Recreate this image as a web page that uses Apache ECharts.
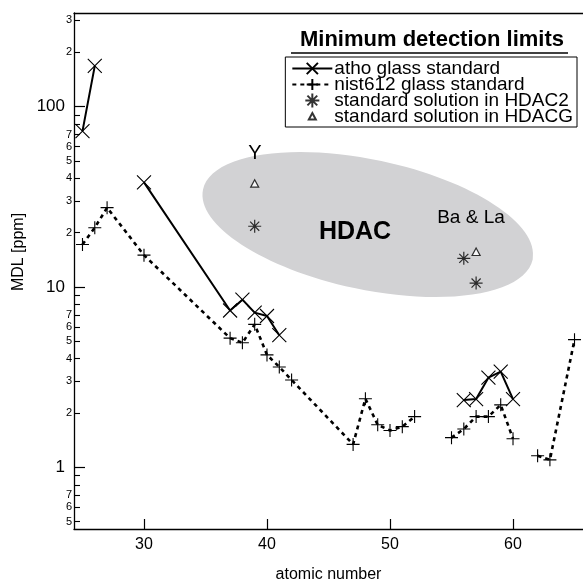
<!DOCTYPE html>
<html>
<head>
<meta charset="utf-8">
<style>html,body{margin:0;padding:0;background:#fff;}#c{width:583px;height:588px;}</style>
<script src="https://cdn.jsdelivr.net/npm/echarts@6/dist/echarts.min.js"></script>
</head>
<body>
<div id="c"></div>
<script>
// ---- data (atomic number, MDL in ppm); null = gap in the line ----
const athoZ = [25, 26, 28, 30, 37, 38, 39, 40, 41, 50, 56, 57, 58, 59, 60];
const athoV = [73, 168, null, 38, 7.4, 8.5, 7.2, 6.9, 5.4, null, 2.36, 2.39, 3.14, 3.39, 2.39];
const nistZ = [25, 26, 27, 30, 37, 38, 39, 40, 41, 42, 47, 48, 49, 50, 51, 52, 53, 55, 56, 57, 58, 59, 60, 61, 62, 63, 65];
const nistV = [17.2, 21.3, 27.5, 15.0, 5.2, 4.9, 6.2, 4.2, 3.6, 3.05, 1.34, 2.4, 1.72, 1.6, 1.68, 1.91, null, 1.46, 1.63, 1.91, 1.91, 2.22, 1.44, null, 1.16, 1.1, 5.1];
const hdac2Z = [39, 56, 57];
const hdac2V = [21.7, 14.4, 10.5];
const hdacgZ = [39, 57];
const hdacgV = [37.3, 15.6];
// HDAC region (ellipse): centre [Z, ppm], half-axes [Z units, decades], tilt deg
const hdacCenter = [48.2, 22.2];
const hdacHalfAxes = [13.7, 0.36];
const hdacTilt = 12;
// axes
const xRange = [24.31, 65.69];
const xTicks = [30, 40, 50, 60];
const yRange = [0.455, 330];
const yMajor = [1, 10, 100];
const yMinorTicks = [0.5, 0.6, 0.7, 0.8, 0.9, 2, 3, 4, 5, 6, 7, 8, 9, 20, 30, 40, 50, 60, 70, 80, 90, 200, 300];
const yMinorLabels = [0.5, 0.6, 0.7, 2, 3, 4, 5, 6, 7, 20, 30, 40, 50, 60, 70, 200, 300];

const FONT = 'Liberation Sans, Arial, Helvetica, sans-serif';
const L = Math.log10;
function pts(z, v) { return z.map((x, i) => [x, v[i] == null ? '-' : L(v[i])]); }

const SYM_X = 'path://M0,0L10,10M10,0L0,10';
const SYM_PLUS = 'path://M5,0L5,10M0,5L10,5';
const SYM_AST = 'path://M5,0L5,10M0,5L10,5M1.5,1.5L8.5,8.5M8.5,1.5L1.5,8.5';
const SYM_TRI = 'path://M0,0M14,14M7,3.5L10.5,10L3.5,10Z';

const chart = echarts.init(document.getElementById('c'), null, {renderer: 'canvas'});
const axisLineStyle = {color: '#000', width: 1.3};

chart.setOption({
  animation: false,
  backgroundColor: '#fff',
  textStyle: {fontFamily: FONT},
  grid: {left: 74, top: 13, width: 509, bottom: 55, containLabel: false},
  xAxis: [{
    type: 'value', min: xRange[0], max: xRange[1], position: 'bottom',
    axisLine: {show: true, onZero: false, lineStyle: axisLineStyle},
    axisTick: {show: true, inside: true, length: 10, customValues: xTicks, lineStyle: {color: '#000', width: 1.2}},
    axisLabel: {customValues: xTicks, color: '#000', fontSize: 16, margin: 8, fontFamily: FONT},
    splitLine: {show: false},
    name: 'atomic number', nameLocation: 'middle', nameGap: 38,
    nameTextStyle: {color: '#000', fontSize: 16, fontFamily: FONT}
  }, {
    type: 'value', min: xRange[0], max: xRange[1], position: 'top',
    axisLine: {show: true, onZero: false, lineStyle: axisLineStyle},
    axisTick: {show: false}, axisLabel: {show: false}, splitLine: {show: false}
  }],
  yAxis: [{
    type: 'value', min: L(yRange[0]), max: L(yRange[1]), position: 'left',
    axisLine: {show: true, onZero: false, lineStyle: axisLineStyle},
    axisTick: {show: true, inside: true, length: 11, customValues: yMajor.map(L), lineStyle: {color: '#000', width: 1.2}},
    axisLabel: {customValues: yMajor.map(L), color: '#000', fontSize: 17, margin: 9, fontFamily: FONT,
      formatter: v => String(Math.round(Math.pow(10, v)))},
    splitLine: {show: false}
  }, {
    type: 'value', min: L(yRange[0]), max: L(yRange[1]), position: 'left',
    axisLine: {show: false, onZero: false},
    axisTick: {show: true, inside: true, length: 6, customValues: yMinorTicks.map(L), lineStyle: {color: '#000', width: 1.1}},
    axisLabel: {customValues: yMinorLabels.map(L), color: '#000', fontSize: 11, margin: 2, fontFamily: FONT,
      formatter: v => { const e = Math.floor(v + 1e-9); return String(Math.round(Math.pow(10, v - e))); }},
    splitLine: {show: false}
  }],
  legend: {
    orient: 'vertical', right: 6, top: 57,
    data: ['atho glass standard', 'nist612 glass standard', 'standard solution in HDAC2', 'standard solution in HDACG'],
    borderColor: '#000', borderWidth: 1, borderRadius: 0,
    padding: [2, 4, 1, 6], itemGap: -3, itemWidth: 40, itemHeight: 14,
    textStyle: {color: '#000', fontSize: 19, fontFamily: FONT, lineHeight: 16, padding: [0, 0, 0, -3]}
  },
  graphic: [
    {type: 'text', x: 432, y: 40, z: 10, style: {text: 'Minimum detection limits', font: 'bold 22px ' + FONT, fill: '#000', align: 'center', verticalAlign: 'middle'}},
    {type: 'line', z: 10, shape: {x1: 291, y1: 53, x2: 568, y2: 53}, style: {stroke: '#000', lineWidth: 1.5}},
    {type: 'text', x: 19, y: 252, rotation: Math.PI / 2, style: {text: 'MDL [ppm]', font: '16px ' + FONT, fill: '#000', align: 'center', verticalAlign: 'middle'}},
    {type: 'text', x: 255, y: 153, z: 10, style: {text: 'Y', font: '20px ' + FONT, fill: '#000', align: 'center', verticalAlign: 'middle'}},
    {type: 'text', x: 471, y: 218, z: 10, style: {text: 'Ba & La', font: '19px ' + FONT, fill: '#000', align: 'center', verticalAlign: 'middle'}},
    {type: 'text', x: 355, y: 232, z: 10, style: {text: 'HDAC', font: 'bold 25px ' + FONT, fill: '#000', align: 'center', verticalAlign: 'middle'}}
  ],
  series: [
    {
      type: 'custom', name: 'HDAC region', z: 1, silent: true,
      data: [[hdacCenter[0], L(hdacCenter[1])]],
      renderItem: function (params, api) {
        const c = api.coord([api.value(0), api.value(1)]);
        const rx = api.size([hdacHalfAxes[0], 0])[0];
        const ry = api.size([0, hdacHalfAxes[1]])[1];
        return {type: 'ellipse', x: c[0], y: c[1], rotation: -hdacTilt * Math.PI / 180,
          shape: {cx: 0, cy: 0, rx: rx, ry: ry}, style: {fill: '#d2d2d4'}};
      }
    },
    {
      type: 'line', name: 'atho glass standard', z: 3,
      data: pts(athoZ, athoV), connectNulls: false,
      symbol: SYM_X, symbolSize: 14, showAllSymbol: true,
      lineStyle: {color: '#000', width: 2},
      itemStyle: {color: '#000', borderColor: '#000', borderWidth: 1.1}
    },
    {
      type: 'line', name: 'nist612 glass standard', z: 3,
      data: pts(nistZ, nistV), connectNulls: false,
      symbol: SYM_PLUS, symbolSize: 13, showAllSymbol: true,
      lineStyle: {color: '#000', width: 2.6, type: [4, 4]},
      itemStyle: {color: '#000', borderColor: '#000', borderWidth: 1.1}
    },
    {
      type: 'scatter', name: 'standard solution in HDAC2', z: 3,
      data: pts(hdac2Z, hdac2V), symbol: SYM_AST, symbolSize: 13,
      itemStyle: {color: '#000', borderColor: '#000', borderWidth: 1.2}
    },
    {
      type: 'scatter', name: 'standard solution in HDACG', z: 3,
      data: pts(hdacgZ, hdacgV), symbol: SYM_TRI, symbolSize: 16,
      itemStyle: {color: '#fff', borderColor: '#000', borderWidth: 1.2}
    }
  ]
});
</script>
</body>
</html>
